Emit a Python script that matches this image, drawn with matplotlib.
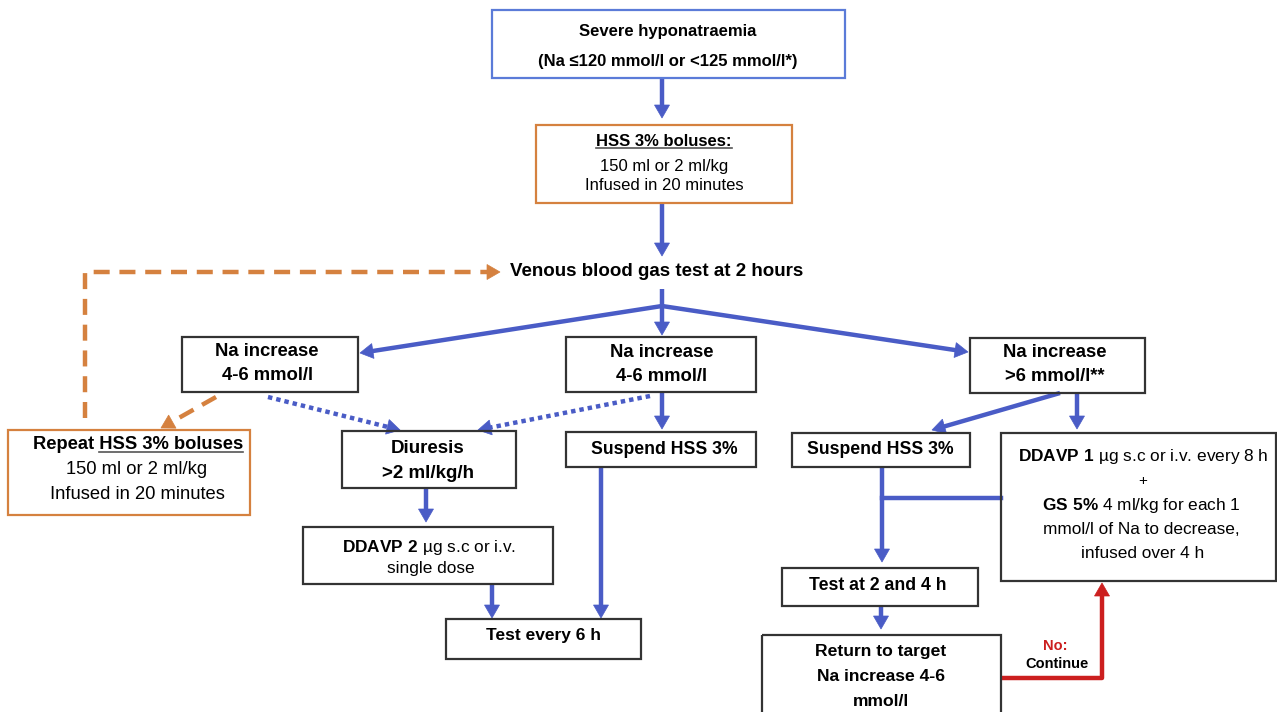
import matplotlib
matplotlib.use("Agg")
import matplotlib.pyplot as plt

plt.rcParams["font.family"] = ["Liberation Sans", "DejaVu Sans"]
plt.rcParams["mathtext.fontset"] = "custom"
plt.rcParams["mathtext.rm"] = "Liberation Sans"
plt.rcParams["mathtext.bf"] = "Liberation Sans:bold"

BLUE = "#4a5cc6"
ORANGE = "#d5813f"
RED = "#cc1f1f"
DARK = "#333333"

# texts of the flowchart
top_lines = ["Severe hyponatraemia", "(Na \u2264120 mmol/l or <125 mmol/l*)"]
bolus_lines = ["HSS 3% boluses:", "150 ml or 2 ml/kg", "Infused in 20 minutes"]
venous_text = "Venous blood gas test at 2 hours"
na_mid_lines = ["Na increase", "4-6 mmol/l"]
na_high_lines = ["Na increase", ">6 mmol/l**"]
repeat_lines = ["Repeat HSS 3% boluses", "150 ml or 2 ml/kg", "Infused in 20 minutes"]
diuresis_lines = ["Diuresis", ">2 ml/kg/h"]
suspend_text = "Suspend HSS 3%"
ddavp2_lines = ["$\\mathbf{DDAVP\\ 2}$ \u00b5g s.c or i.v.", "single dose"]
test6_text = "Test every 6 h"
ddavp1_lines = ["$\\mathbf{DDAVP\\ 1}$ \u00b5g s.c or i.v. every 8 h", "+",
                "$\\mathbf{GS\\ 5\\%}$ 4 ml/kg for each 1",
                "mmol/l of Na to decrease,", "infused over 4 h"]
test24_text = "Test at 2 and 4 h"
target_lines = ["Return to target", "Na increase 4-6", "mmol/l"]
no_text, continue_text = "No:", "Continue"

fig = plt.figure(figsize=(12.77, 7.12), dpi=100)
ax = fig.add_axes([0, 0, 1, 1])
ax.set_xlim(0, 1277)
ax.set_ylim(712, 0)
ax.axis("off")


def box(x0, y0, x1, y1, ec=DARK, lw=1.6):
    ax.add_patch(plt.Rectangle((x0, y0), x1 - x0, y1 - y0, fill=False,
                               ec=ec, lw=lw, zorder=3))


def label(x, y, s, size=12, bold=True, color="black", **kw):
    # +1.5 so the glyphs (not the box with descent) sit on y
    return ax.text(x, y + 1.5, s, ha="center", va="center", fontsize=size,
                   fontweight="bold" if bold else "normal", color=color,
                   zorder=4, **kw)


def arrow(xs, ys, color=BLUE, ls="-", lw=3.2, hl=13, hw=15):
    # polyline with a filled triangular head on the last point
    dx, dy = xs[-1] - xs[-2], ys[-1] - ys[-2]
    n = (dx ** 2 + dy ** 2) ** 0.5
    ux, uy = dx / n, dy / n
    bx, by = xs[-1] - ux * hl, ys[-1] - uy * hl
    ax.plot(list(xs[:-1]) + [bx + ux * 2], list(ys[:-1]) + [by + uy * 2],
            color=color, lw=lw, ls=ls, solid_capstyle="butt", zorder=2)
    px, py = -uy * hw / 2, ux * hw / 2
    ax.add_patch(plt.Polygon([(xs[-1], ys[-1]), (bx + px, by + py), (bx - px, by - py)],
                             closed=True, fc=color, ec=color, lw=0.5, zorder=2))


def underline(t, part=None):
    fig.canvas.draw()
    r = fig.canvas.get_renderer()
    inv = ax.transData.inverted()
    bb = t.get_window_extent(r)
    (xa, yb), (xb, _) = inv.transform([[bb.x0, bb.y0], [bb.x1, bb.y1]])
    if part is not None:
        tmp = ax.text(0, 0, part, fontsize=t.get_fontsize(), fontweight=t.get_fontweight())
        pb = tmp.get_window_extent(r)
        w = inv.transform([[pb.x1, 0]])[0][0] - inv.transform([[pb.x0, 0]])[0][0]
        tmp.remove()
        xa = xb - w
    ax.plot([xa, xb], [yb - 1, yb - 1], color="#555555", lw=1.2, zorder=4)


DASH = (0, (3.6, 2.2))
DOT = (0, (1, 0.9))

# top box
box(492, 10, 845, 78, ec="#5b7bd8")
label(668, 30, top_lines[0])
label(668, 60, top_lines[1])
arrow([662, 662], [78, 118])

# HSS bolus box
box(536, 125, 792, 203, ec=ORANGE)
t = label(664, 140, bolus_lines[0])
underline(t)
label(664, 165, bolus_lines[1], bold=False)
label(664, 184, bolus_lines[2], bold=False)
arrow([662, 662], [203, 256])

label(657, 270, venous_text, size=13.5)

# orange repeat loop
arrow([85, 85, 500], [418, 272, 272], color=ORANGE, ls=DASH)

# fork
arrow([662, 360], [306, 353])
arrow([662, 662], [289, 335])
arrow([662, 968], [306, 352])

# Na increase boxes
box(182, 337, 358, 392)
label(267, 350, na_mid_lines[0], size=13.3)
label(268, 374, na_mid_lines[1], size=13.3)
box(566, 337, 756, 392)
label(662, 351, na_mid_lines[0], size=13.3)
label(662, 375, na_mid_lines[1], size=13.3)
box(970, 338, 1145, 393)
label(1055, 351, na_high_lines[0], size=13.3)
label(1055, 375, na_high_lines[1], size=13.3)

# repeat box
arrow([216, 161], [397, 428], color=ORANGE, ls=DASH)
box(8, 430, 250, 515, ec=ORANGE)
t = label(138, 443, repeat_lines[0], size=13.2)
underline(t, "HSS 3% boluses")
label(137, 468, repeat_lines[1], size=13.2, bold=False)
label(137, 493, repeat_lines[2], size=13.2, bold=False)

# dotted arrows into diuresis
arrow([268, 400], [397, 430], ls=DOT)
arrow([650, 478], [396, 430], ls=DOT)

box(342, 431, 516, 488)
label(428, 447, diuresis_lines[0], size=13.5)
label(428, 472, diuresis_lines[1], size=13.5)
arrow([426, 426], [488, 522])

box(303, 527, 553, 584)
label(429, 546, ddavp2_lines[0], size=12.4, bold=False)
label(431, 567, ddavp2_lines[1], size=12.4, bold=False)
arrow([492, 492], [584, 618])

# middle suspend
arrow([662, 662], [392, 429])
box(566, 432, 756, 467)
label(664, 448, suspend_text, size=12.7)
arrow([601, 601], [467, 618])

box(446, 619, 641, 659)
label(543, 634, test6_text, size=12.5)

# right branch
arrow([1060, 932], [393, 430])
arrow([1077, 1077], [393, 429])
box(792, 433, 970, 467)
label(880, 448, suspend_text, size=12.7)

box(1001, 433, 1276, 581)
label(1143, 455, ddavp1_lines[0], size=12.4, bold=False)
label(1143, 480, ddavp1_lines[1], size=11, bold=False)
label(1141, 504, ddavp1_lines[2], size=12.4, bold=False)
label(1141, 528, ddavp1_lines[3], size=12.4, bold=False)
label(1143, 552, ddavp1_lines[4], size=12.4, bold=False)

ax.plot([882, 1001], [498, 498], color=BLUE, lw=3.2, zorder=2)
arrow([882, 882], [467, 562])

box(782, 568, 978, 606)
label(878, 584, test24_text, size=12.7)
arrow([881, 881], [606, 629])

box(762, 635, 1001, 730)
label(881, 650, target_lines[0], size=12.6)
label(881, 675, target_lines[1], size=12.6)
label(881, 700, target_lines[2], size=12.6)

arrow([1001, 1102, 1102], [678, 678, 583], color=RED)
label(1055, 644, no_text, size=10.5, color=RED)
label(1057, 663, continue_text, size=10.5)

fig.savefig("out.png", dpi=100)
